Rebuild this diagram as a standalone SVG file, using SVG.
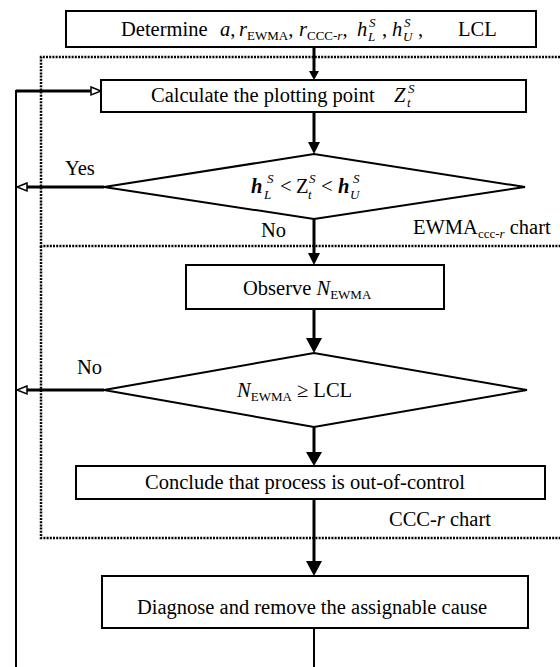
<svg xmlns="http://www.w3.org/2000/svg" width="560" height="667" viewBox="0 0 560 667">
<style>
.box{fill:#fff;stroke:#000;stroke-width:2}
.t{font-family:"Liberation Serif","Times New Roman",serif;font-size:20.5px;fill:#000}
.it{font-style:italic}
.sm{font-size:13px}
.dot{fill:none;stroke:#000;stroke-width:2.5;stroke-dasharray:2 1.2}
.flow{fill:none;stroke:#000;stroke-width:3}
.loop{fill:none;stroke:#000;stroke-width:2}
.ah{fill:#000;stroke:none}
.oh{fill:#fff;stroke:#000;stroke-width:1.5}
</style>
<rect width="560" height="667" fill="#fff"/>
<g id="frames">
<polyline class="dot" points="560,57 41,57 41,246 560,246"/>
<polyline class="dot" points="41,246 41,538 560,538"/>
</g>
<g id="connectors">
<line class="flow" x1="314" y1="47" x2="314" y2="72"/>
<polygon class="ah" points="309,71 319,71 314,80"/>
<line class="flow" x1="314" y1="112" x2="314" y2="143"/>
<polygon class="ah" points="308,142 320,142 314,154"/>
<line class="flow" x1="314" y1="219" x2="314" y2="254"/>
<polygon class="ah" points="308,253 320,253 314,265"/>
<line class="flow" x1="314" y1="309" x2="314" y2="339"/>
<polygon class="ah" points="306,338 322,338 314,353"/>
<line class="flow" x1="314" y1="427" x2="314" y2="453"/>
<polygon class="ah" points="306,452 322,452 314,466"/>
<line class="flow" x1="314" y1="499" x2="314" y2="562"/>
<polygon class="ah" points="306,561 322,561 314,576"/>
<line class="loop" x1="314" y1="628" x2="314" y2="667"/>
<line class="loop" x1="16" y1="90" x2="16" y2="667"/>
<line class="flow" x1="16" y1="91" x2="92" y2="91"/>
<polygon class="oh" points="91,87 101,91 91,95"/>
<line class="flow" x1="104" y1="187" x2="27" y2="187"/>
<polygon class="oh" points="27,183 17,187 27,191"/>
<line class="flow" x1="104" y1="390" x2="27" y2="390"/>
<polygon class="oh" points="27,386 17,390 27,394"/>
</g>
<g id="determine">
<rect class="box" x="66" y="11" width="470" height="36"/>
<text class="t" x="121" y="36">Determine</text>
<text class="t it" x="220" y="36">a<tspan font-style="normal">,</tspan></text>
<text class="t" x="239" y="36"><tspan class="it">r</tspan><tspan class="sm" dy="4">EWMA</tspan><tspan dy="-4">,</tspan></text>
<text class="t" x="299" y="36"><tspan class="it">r</tspan><tspan class="sm" dy="4">CCC-<tspan class="it">r</tspan></tspan><tspan dy="-4">,</tspan></text>
<text class="t it" x="357" y="36">h</text>
<text class="t it sm" x="369" y="27">S</text>
<text class="t it sm" x="368" y="41">L</text>
<text class="t" x="382" y="36">,</text>
<text class="t it" x="392" y="36">h</text>
<text class="t it sm" x="404" y="27">S</text>
<text class="t it sm" x="403" y="41">U</text>
<text class="t" x="418" y="36">,</text>
<text class="t" x="458" y="36">LCL</text>
</g>
<g id="calculate">
<rect class="box" x="101" y="80" width="425" height="32"/>
<text class="t" x="151" y="102">Calculate the plotting point</text>
<text class="t it" x="394" y="102">Z</text>
<text class="t it sm" x="408" y="93">S</text>
<text class="t it sm" x="407" y="107">t</text>
</g>
<g id="decision1">
<polygon class="box" points="104,187 314,154 525,187 314,219"/>
<text class="t it" x="251" y="193" font-weight="bold">h</text>
<text class="t it sm" x="267" y="183">S</text>
<text class="t it sm" x="264" y="199">L</text>
<text class="t" x="280" y="193">&lt;</text>
<text class="t" x="296" y="193">Z</text>
<text class="t it sm" x="309" y="183">S</text>
<text class="t it sm" x="308" y="199">t</text>
<text class="t" x="321" y="193">&lt;</text>
<text class="t it" x="338" y="193" font-weight="bold">h</text>
<text class="t it sm" x="353" y="183">S</text>
<text class="t it sm" x="350" y="199">U</text>
<text class="t" x="65" y="175">Yes</text>
<text class="t" x="261" y="237">No</text>
</g>
<g id="ewma-label">
<text class="t" x="413" y="234">EWMA<tspan class="sm" dy="4">ccc-<tspan class="it">r</tspan></tspan><tspan dy="-4"> chart</tspan></text>
</g>
<g id="observe">
<rect class="box" x="186" y="265" width="258" height="44"/>
<text class="t" x="243" y="295">Observe <tspan class="it">N</tspan><tspan class="sm" dy="4">EWMA</tspan></text>
</g>
<g id="decision2">
<polygon class="box" points="104,390 314,353 527,390 314,427"/>
<text class="t" x="237" y="397"><tspan class="it">N</tspan><tspan class="sm" dy="4">EWMA</tspan><tspan dy="-4"> ≥ LCL</tspan></text>
<text class="t" x="77" y="374">No</text>
</g>
<g id="conclude">
<rect class="box" x="76" y="466" width="469" height="33"/>
<text class="t" x="145" y="489">Conclude that process is out-of-control</text>
</g>
<g id="ccc-label">
<text class="t" x="389" y="526">CCC-<tspan class="it">r</tspan> chart</text>
</g>
<g id="diagnose">
<rect class="box" x="102" y="576" width="426" height="52"/>
<text class="t" x="137" y="614">Diagnose and remove the assignable cause</text>
</g>
</svg>
